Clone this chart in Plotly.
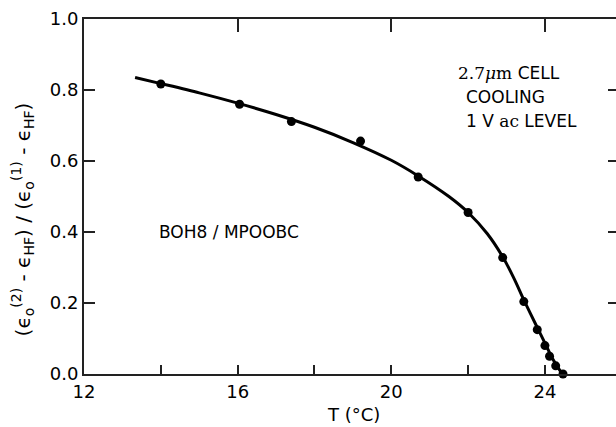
import plotly.graph_objects as go

# Measured data points
T_points = [14.0, 16.05, 17.4, 19.2, 20.7, 22.0, 22.9, 23.45, 23.8, 24.0, 24.12, 24.28, 24.47]
R_points = [0.817, 0.760, 0.711, 0.656, 0.555, 0.455, 0.328, 0.204, 0.125, 0.080, 0.050, 0.023, 0.0]

# Smooth fitted curve
T_curve = [13.33, 14.0, 15.0, 16.0, 17.0, 18.0, 19.0, 20.0, 20.7, 21.5, 22.0, 22.5, 22.9, 23.2, 23.45, 23.8, 24.0, 24.2, 24.45]
R_curve = [0.835, 0.818, 0.792, 0.763, 0.731, 0.695, 0.652, 0.602, 0.558, 0.500, 0.455, 0.395, 0.330, 0.268, 0.209, 0.131, 0.087, 0.043, 0.0]

x_range = [12, 25.85]
y_range = [0, 1.0]
y_ticks = [0.0, 0.2, 0.4, 0.6, 0.8, 1.0]
y_ticktext = ["0.0", "0.2", "0.4", "0.6", "0.8", "1.0"]
x_ticks = [12, 16, 20, 24]

FONT = "DejaVu Sans"
SERIF = "DejaVu Serif"

fig = go.Figure()
fig.add_trace(go.Scatter(x=T_curve, y=R_curve, mode="lines",
                         line=dict(color="black", width=3, shape="spline", smoothing=0.8),
                         cliponaxis=False, showlegend=False, hoverinfo="skip"))
fig.add_trace(go.Scatter(x=T_points, y=R_points, mode="markers",
                         marker=dict(color="black", size=9),
                         cliponaxis=False, showlegend=False))
# helper trace for the mirrored axes
fig.add_trace(go.Scatter(x=T_points, y=R_points, mode="markers", xaxis="x2", yaxis="y2",
                         marker=dict(opacity=0), showlegend=False, hoverinfo="skip"))

fig.update_layout(
    width=616, height=427,
    margin=dict(l=84, r=0, t=19, b=53),
    paper_bgcolor="white", plot_bgcolor="white",
    font=dict(family=FONT, color="black", size=18),
    xaxis=dict(range=x_range, tickvals=x_ticks, ticktext=[str(v) for v in x_ticks],
               ticks="inside", ticklen=9, tickwidth=1.5, tickcolor="#222",
               minor=dict(ticks="inside", dtick=2, tick0=12, ticklen=9, tickwidth=1.5, tickcolor="#222"),
               showline=True, linecolor="#222", linewidth=2, showgrid=False, zeroline=False,
               tickfont=dict(size=18, family=FONT)),
    yaxis=dict(range=y_range, tickvals=y_ticks, ticktext=y_ticktext,
               ticks="inside", ticklen=11, tickwidth=1.5, tickcolor="#222",
               showline=True, linecolor="#222", linewidth=2, showgrid=False, zeroline=False,
               tickfont=dict(size=18, family=FONT)),
    xaxis2=dict(range=x_range, overlaying="x", side="top", tickvals=x_ticks,
                ticks="inside", ticklen=13, tickwidth=1.5, tickcolor="#222",
                showticklabels=False, showline=True, linecolor="#222", linewidth=2,
                showgrid=False, zeroline=False),
    yaxis2=dict(range=y_range, overlaying="y", side="right", tickvals=[0.2, 0.4, 0.6, 0.8],
                ticks="inside", ticklen=8, tickwidth=1.5, tickcolor="#222",
                showticklabels=False, showline=False, showgrid=False, zeroline=False),
)

ytitle = ("(ϵ<sub>o</sub><sup>(2)</sup> - ϵ<sub>HF</sub>) / "
          "(ϵ<sub>o</sub><sup>(1)</sup> - ϵ<sub>HF</sub>)")
fig.add_annotation(text=ytitle, textangle=-90, xref="paper", yref="paper",
                   x=-0.115, y=0.435, xanchor="center", yanchor="middle",
                   showarrow=False, font=dict(size=20, family=FONT))
fig.add_annotation(text="T (°C)", xref="paper", yref="paper", x=0.5075, y=-0.113,
                   xanchor="center", yanchor="middle", showarrow=False,
                   font=dict(size=18, family=FONT))

fig.add_annotation(text=f"<span style='font-family:{SERIF}'>2.7<i>μ</i>m</span> CELL",
                   x=21.69, y=0.848, xanchor="left", yanchor="middle", showarrow=False,
                   font=dict(size=17, family=FONT))
fig.add_annotation(text="COOLING", x=21.88, y=0.78, xanchor="left", yanchor="middle",
                   showarrow=False, font=dict(size=17, family=FONT))
fig.add_annotation(text=f"1 V <span style='font-family:{SERIF}'>ac</span> LEVEL",
                   x=21.88, y=0.714, xanchor="left", yanchor="middle", showarrow=False,
                   font=dict(size=17, family=FONT))
fig.add_annotation(text="BOH8 / MPOOBC", x=13.9, y=0.40, xanchor="left", yanchor="middle",
                   showarrow=False, font=dict(size=17, family=FONT))

fig.write_html("out.html")
